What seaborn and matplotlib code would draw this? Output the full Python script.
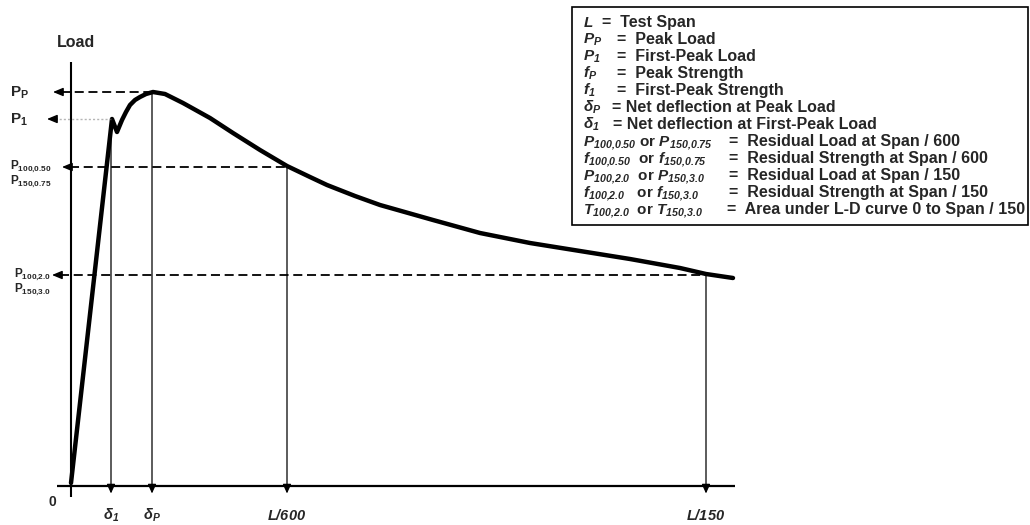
import matplotlib
matplotlib.use("Agg")
import matplotlib.pyplot as plt
import seaborn as sns
import pandas as pd
from matplotlib.patches import Rectangle

# ---------------- data ----------------
deflection = [0.00, 0.41, 0.46, 0.51, 0.55, 0.59, 0.64, 0.69, 0.75, 0.82, 0.94, 1.12,
              1.39, 1.62, 1.89, 2.16, 2.39, 2.56, 2.84, 3.09, 3.62, 4.09, 4.59,
              5.09, 5.59, 6.09, 6.35, 6.62]
load = [0.3, 36.7, 35.4, 36.6, 37.4, 38.1, 38.6, 38.9, 39.2, 39.4, 39.2, 38.3,
        36.8, 35.3, 33.6, 32.0, 30.9, 30.1, 29.0, 28.1, 26.6, 25.3, 24.3,
        23.5, 22.7, 21.8, 21.2, 20.8]

marker_x = [0.40, 0.81, 2.16, 6.35]          # delta_1, delta_P, L/600, L/150
marker_y = [36.7, 39.4, 31.9, 21.1]          # P_1, P_P, P_600, P_150
x_tick_labels = [r"$\mathbfit{δ}_{\mathbfit{1}}$", r"$\mathbfit{δ}_{\mathbfit{P}}$",
                 r"$\mathbfit{L/600}$", r"$\mathbfit{L/150}$"]

legend_symbols = [
    r"$\mathbfit{L}$", r"$\mathbfit{P}_{\mathbfit{P}}$", r"$\mathbfit{P}_{\mathbfit{1}}$",
    r"$\mathbfit{f}_{\mathbfit{P}}$", r"$\mathbfit{f}_{\mathbfit{1}}$",
    r"$\mathbfit{δ}_{\mathbfit{P}}$", r"$\mathbfit{δ}_{\mathbfit{1}}$",
    r"$\mathbfit{P}_{\mathbfit{100{,}0.50}}$ or $\mathbfit{P}_{\mathbfit{150{,}0.75}}$",
    r"$\mathbfit{f}_{\mathbfit{100{,}0.50}}$  or $\mathbfit{f}_{\mathbfit{150{,}0.75}}$",
    r"$\mathbfit{P}_{\mathbfit{100{,}2.0}}$  or $\mathbfit{P}_{\mathbfit{150{,}3.0}}$",
    r"$\mathbfit{f}_{\mathbfit{100{,}2.0}}$   or $\mathbfit{f}_{\mathbfit{150{,}3.0}}$",
    r"$\mathbfit{T}_{\mathbfit{100{,}2.0}}$  or $\mathbfit{T}_{\mathbfit{150{,}3.0}}$",
]
legend_texts = [
    "=  Test Span", "=  Peak Load", "=  First-Peak Load", "=  Peak Strength",
    "=  First-Peak Strength", "= Net deflection at Peak Load",
    "= Net deflection at First-Peak Load",
    "=  Residual Load at Span / 600", "=  Residual Strength at Span / 600",
    "=  Residual Load at Span / 150", "=  Residual Strength at Span / 150",
    "=  Area under L-D curve 0 to Span / 150",
]

# ---------------- styling ----------------
sns.set_style("white")
plt.rcParams["font.family"] = ["Liberation Sans", "DejaVu Sans"]
plt.rcParams["mathtext.fontset"] = "custom"
plt.rcParams["mathtext.rm"] = "Liberation Sans:bold"
plt.rcParams["mathtext.bf"] = "Liberation Sans:bold"
plt.rcParams["mathtext.it"] = "Liberation Sans:italic:bold"
plt.rcParams["mathtext.bfit"] = "Liberation Sans:italic:bold"

W, H = 1030, 525
fig = plt.figure(figsize=(W / 100, H / 100), dpi=100)
ax = fig.add_axes([0, 0, 1, 1])
ax.set_xlim(-0.71, 9.59)
ax.set_ylim(-3.9, 48.6)
ax.axis("off")


def fx(px):
    return px / W


def fy(py):
    return 1 - py / H


def ftext(px, py, s, **kw):
    kw.setdefault("fontweight", "bold")
    fig.text(fx(px), fy(py), s, **kw)


# axes lines
ax.plot([-0.14, 6.64], [0, 0], color="black", lw=1.6, solid_capstyle="butt")
ax.plot([0, 0], [-1.1, 42.4], color="black", lw=1.5, solid_capstyle="butt")

# load-deflection curve
df = pd.DataFrame({"deflection": deflection, "load": load})
sns.lineplot(data=df, x="deflection", y="load", color="black", lw=3.2, ax=ax,
             sort=False, estimator=None)

# vertical drop lines with arrowheads on the x axis
for xv, yv in zip(marker_x, marker_y):
    ax.annotate("", xy=(xv, -0.75), xytext=(xv, yv),
                arrowprops=dict(arrowstyle="-|>,head_length=0.55,head_width=0.25",
                                color="black", lw=0.9, shrinkA=0, shrinkB=0))

# horizontal dashed lines with arrowheads at the left
tips = [-0.24, -0.18, -0.09, -0.19]
for i, (xv, yv) in enumerate(zip(marker_x, marker_y)):
    tip = tips[i]
    if i == 0:
        ax.plot([tip + 0.08, xv], [yv, yv], color="#b5b5b5", lw=1.0, ls=(0, (1.5, 1.5)))
    else:
        ax.plot([tip + 0.08, xv], [yv, yv], color="black", lw=1.3, dashes=(5, 2.6))
    ax.annotate("", xy=(tip, yv), xytext=(tip + 0.1, yv),
                arrowprops=dict(arrowstyle="-|>,head_length=0.6,head_width=0.25",
                                color="black", lw=1.0, shrinkA=0, shrinkB=0))

# left labels
ftext(10, 97, r"$\mathbf{P}_{\mathbf{P}}$", fontsize=11, va="baseline")
ftext(10, 124, r"$\mathbf{P}_{\mathbf{1}}$", fontsize=11, va="baseline")
ftext(10, 170, r"$\mathbf{P}_{\mathbf{100{,}0.50}}$", fontsize=8.5, va="baseline")
ftext(10, 185, r"$\mathbf{P}_{\mathbf{150{,}0.75}}$", fontsize=8.5, va="baseline")
ftext(14, 278, r"$\mathbf{P}_{\mathbf{100{,}2.0}}$", fontsize=8.5, va="baseline")
ftext(14, 293, r"$\mathbf{P}_{\mathbf{150{,}3.0}}$", fontsize=8.5, va="baseline")
ftext(57, 47, "Load", fontsize=11.5, va="baseline")
ftext(52, 502, "0", fontsize=10, ha="center", va="center")

# bottom labels
for xv, lab in zip(marker_x, x_tick_labels):
    ax.text(xv, -2.95, lab, fontsize=10.5, ha="center", va="center")

# legend box
fig.patches.append(Rectangle((fx(572), fy(225)), fx(1028) - fx(572), fy(7) - fy(225),
                             transform=fig.transFigure, fill=False, ec="black", lw=1.2))
eq_x = [602, 617, 617, 617, 617, 612, 613, 729, 729, 729, 729, 727]
for i, (sym, txt) in enumerate(zip(legend_symbols, legend_texts)):
    base = 27 + 17 * i
    ftext(583, base, sym, fontsize=11, va="baseline")
    ftext(eq_x[i], base, txt, fontsize=11.5, va="baseline")

fig.savefig("out.png", dpi=100, facecolor="white")
